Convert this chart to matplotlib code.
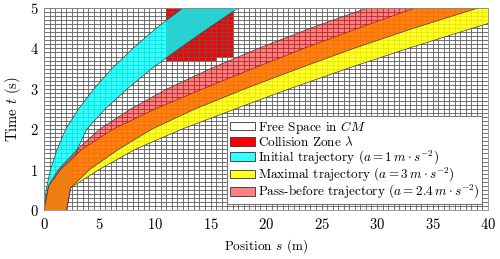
import numpy as np
import matplotlib
matplotlib.use("Agg")
import matplotlib.pyplot as plt
from matplotlib.colors import ListedColormap
from matplotlib.patches import Patch

plt.rcParams['font.family'] = 'serif'
plt.rcParams['font.serif'] = ['cmr10']
plt.rcParams['mathtext.fontset'] = 'cm'
plt.rcParams['axes.unicode_minus'] = False
plt.rcParams['axes.formatter.use_mathtext'] = True

# ---- data ----
s_max, t_max = 40, 5
cell_s, cell_t = 0.5, 0.1

# collision zone (rectangles of cells): s0, s1, t0, t1
collision_rects = [(11.0, 15.5, 3.7, 5.0), (15.5, 17.0, 3.8, 5.0)]

# Initial trajectory (a = 1)
cyan_rear_t = [0, 0.25, 0.5, 0.75, 1, 1.5, 2, 2.5, 3, 3.5, 4, 4.5, 5]
cyan_rear_s = [0, 0.08, 0.2, 0.38, 0.58, 1.18, 1.95, 3.1, 4.5, 6.1, 8.0, 10.1, 12.5]
cyan_front_t = [0, 0.5, 1, 1.5, 2, 2.5, 3, 3.5, 4, 4.5, 5]
cyan_front_s = [2.05, 2.2, 2.5, 3.0, 3.85, 5.5, 7.5, 9.7, 12.2, 14.8, 17.5]

# Maximal trajectory (a = 3)
yel_t = [0, 0.6, 1.0, 1.5, 2.0, 2.5, 3.0, 3.5, 4.0, 4.5, 5.0]
yel_rear_s = [0, 0.42, 1.5, 3.4, 6.2, 10.0, 14.3, 18.8, 23.4, 28.3, 33.4]
yel_front_t = [0, 0.55, 1.0, 1.5, 2.0, 2.5, 3.0, 3.5, 4.0, 4.5, 5.0]
yel_front_s = [2.05, 2.4, 4.95, 8.2, 12.4, 17.2, 22.1, 27.3, 32.8, 38.6, 44.6]

# Pass-before trajectory (a = 2.4)
pink_t = [0, 0.6, 1.0, 1.5, 2.0, 2.5, 3.0, 3.5, 4.0, 4.5, 5.0]
pink_rear_s = [0, 0.4, 1.3, 3.0, 5.0, 7.8, 11.1, 15.0, 19.3, 24.0, 29.1]
pink_front_t = [0, 0.55, 1.0, 1.5, 2.0, 2.5, 3.0, 3.5, 4.0, 4.5, 5.0]
pink_front_s = [2.05, 2.4, 4.1, 6.7, 9.7, 13.6, 18.1, 22.9, 27.9, 33.3, 39.1]

labels = [r"Free Space in $CM$",
          r"Collision Zone $\lambda$",
          r"Initial trajectory ($a = 1\,m\cdot s^{-2}$)",
          r"Maximal trajectory ($a = 3\,m\cdot s^{-2}$)",
          r"Pass-before trajectory ($a = 2.4\,m\cdot s^{-2}$)"]

# ---- figure ----
fig = plt.figure(figsize=(5, 2.59), dpi=100)
ax = fig.add_axes([0.088, 0.189, 0.888, 0.78])

s_edges = np.arange(0, s_max + cell_s / 2, cell_s)
t_edges = np.arange(0, t_max + cell_t / 2, cell_t)
sc = (s_edges[:-1] + s_edges[1:]) / 2
tc = (t_edges[:-1] + t_edges[1:]) / 2
S, T = np.meshgrid(sc, tc)
Z = np.zeros_like(S)
for s0, s1, t0, t1 in collision_rects:
    Z[(S > s0) & (S < s1) & (T > t0) & (T < t1)] = 1
ax.pcolormesh(s_edges, t_edges, Z, cmap=ListedColormap(['white', 'red']),
              vmin=0, vmax=1, edgecolors='none', zorder=1)
# cell borders of the free-space grid
ax.vlines(s_edges, 0, t_max, colors='#5c5c5c', linewidth=0.6, zorder=1.1)
ax.hlines(t_edges, 0, s_max, colors='#5c5c5c', linewidth=0.6, zorder=1.1)


def band(rear_s, rear_t, front_s, front_t, color, alpha, z):
    xs = list(rear_s) + list(front_s)[::-1]
    ys = list(rear_t) + list(front_t)[::-1]
    ax.fill(xs, ys, facecolor=color, alpha=alpha, edgecolor='none', zorder=z)
    ax.plot(rear_s, rear_t, color='#404040', lw=0.5, zorder=z + 0.05)
    ax.plot(front_s, front_t, color='#404040', lw=0.5, zorder=z + 0.05)


band(cyan_rear_s, cyan_rear_t, cyan_front_s, cyan_front_t, (0, 1, 1), 0.8, 2)
band(yel_rear_s, yel_t, yel_front_s, yel_front_t, (1, 1, 0), 0.85, 2.2)
band(pink_rear_s, pink_t, pink_front_s, pink_front_t, (1, 0, 0), 0.5, 2.4)

ax.set_xlim(0, s_max)
ax.set_ylim(0, t_max)
ax.set_xticks(np.arange(0, 41, 5))
ax.set_yticks(np.arange(0, 6, 1))
ax.tick_params(direction='in', length=0, labelsize=10.5)
ax.tick_params(axis='x', pad=5)
ax.tick_params(axis='y', pad=4)
for sp in ax.spines.values():
    sp.set_color('#888888')
    sp.set_linewidth(0.6)
ax.set_xlabel(r"Position $s$ (m)", fontsize=9.5, labelpad=4)
ax.set_ylabel(r"Time $t$ (s)", fontsize=10.5, labelpad=5)

handles = [Patch(facecolor='white', edgecolor='#333333', lw=0.6),
           Patch(facecolor='red', edgecolor='#333333', lw=0.6),
           Patch(facecolor=(0.2, 1, 1), edgecolor='#333333', lw=0.6),
           Patch(facecolor=(1, 1, 0.15), edgecolor='#333333', lw=0.6),
           Patch(facecolor=(1, 0.5, 0.5), edgecolor='#333333', lw=0.6)]
leg = ax.legend(handles, labels, loc='lower right', fontsize=9.5, frameon=True,
                fancybox=False, framealpha=1, edgecolor='#777777',
                handlelength=1.9, handleheight=0.65, handletextpad=0.2,
                labelspacing=-0.05, borderpad=0.2, borderaxespad=0.45)
leg.get_frame().set_linewidth(0.8)
leg.set_zorder(5)

fig.savefig("out.png", dpi=100)
